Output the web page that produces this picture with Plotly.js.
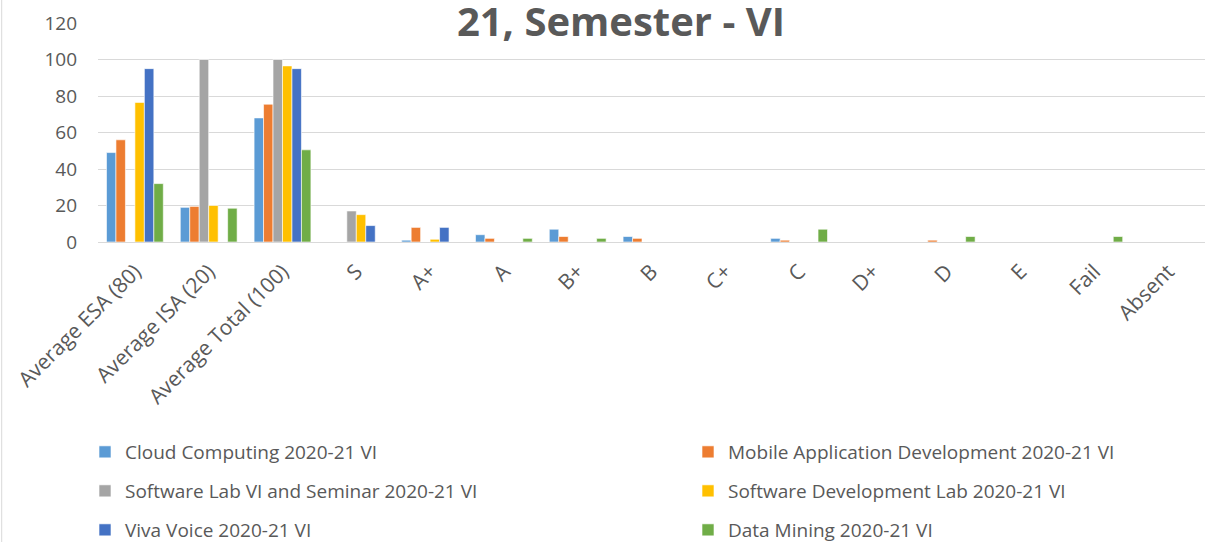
<!DOCTYPE html>
<html>
<head>
<meta charset="utf-8">
<script src="https://cdn.plot.ly/plotly-3.0.1.min.js"></script>
<style>
  html, body { margin: 0; padding: 0; background: #fff; }
  #chart { width: 1208px; height: 542px; }
</style>
</head>
<body>
<div id="chart"></div>
<script>
// categories on the x axis
let categories = ['Average ESA (80)', 'Average ISA (20)', 'Average Total (100)', 'S', 'A+', 'A',
                  'B+', 'B', 'C+', 'C', 'D+', 'D', 'E', 'Fail', 'Absent'];

// one array per course
let cloudComputing = [49, 19, 68, 0, 1, 4, 7, 3, 0, 2, 0, 0, 0, 0, 0];
let mobileAppDev   = [56, 19.5, 75.5, 0, 8, 2, 3, 2, 0, 1, 0, 1, 0, 0, 0];
let softwareLab    = [0, 100, 100, 17, 0, 0, 0, 0, 0, 0, 0, 0, 0, 0, 0];
let softwareDevLab = [76.5, 20, 96.5, 15, 1.5, 0, 0, 0, 0, 0, 0, 0, 0, 0, 0];
let vivaVoice      = [95, 0, 95, 9, 8, 0, 0, 0, 0, 0, 0, 0, 0, 0, 0];
let dataMining     = [32, 18.5, 50.5, 0, 0, 2, 2, 0, 0, 7, 0, 3, 0, 3, 0];

let seriesNames = ['Cloud Computing 2020-21 VI', 'Mobile Application Development 2020-21 VI',
                   'Software Lab VI and Seminar 2020-21 VI', 'Software Development Lab 2020-21 VI',
                   'Viva Voice 2020-21 VI', 'Data Mining 2020-21 VI'];
let seriesValues = [cloudComputing, mobileAppDev, softwareLab, softwareDevLab, vivaVoice, dataMining];
let seriesColors = ['#5B9BD5', '#ED7D31', '#A5A5A5', '#FFC000', '#4472C4', '#70AD47'];

let traces = [];
let layout = {
  width: 1208,
  height: 542,
  paper_bgcolor: '#fff',
  plot_bgcolor: '#fff',
  font: { family: 'Open Sans, sans-serif', color: '#595959', size: 17 },
  margin: { l: 98, r: 3, t: 23, b: 300, autoexpand: false },
  barmode: 'group',
  bargap: 0.23,
  bargroupgap: 0,
  showlegend: true,
  title: {
    text: '<b>21, Semester - VI</b>',
    font: { size: 40, color: '#595959' },
    xref: 'container', yref: 'container',
    x: 0.514, xanchor: 'center',
    y: 1 - 22 / 542, yanchor: 'middle'
  },
  xaxis: {
    type: 'category',
    automargin: false,
    tickangle: -45,
    showgrid: false,
    showline: true,
    linecolor: '#d9d9d9',
    linewidth: 1,
    ticks: '',
    ticklabelstandoff: 8,
    tickfont: { size: 21, color: '#595959' }
  },
  yaxis: {
    automargin: false,
    range: [0, 120],
    dtick: 20,
    gridcolor: '#d9d9d9',
    gridwidth: 1,
    zeroline: false,
    showline: false,
    ticks: '',
    ticklabelstandoff: 20,
    tickfont: { size: 19, color: '#595959' }
  },
  shapes: [{
    type: 'line', xref: 'paper', yref: 'paper',
    x0: -0.087, x1: -0.087, y0: -1.5, y1: 1.2,
    line: { color: '#d9d9d9', width: 1 }
  }]
};

// legend laid out in two columns and three rows, one legend box per entry
let colX = [85, 688];
let rowY = [452, 491, 530];
for (let i = 0; i < seriesNames.length; i++) {
  let id = i === 0 ? 'legend' : 'legend' + (i + 1);
  traces.push({
    x: categories,
    y: seriesValues[i],
    name: seriesNames[i],
    type: 'bar',
    legend: id,
    marker: { color: seriesColors[i], line: { color: 'rgba(255,255,255,0.6)', width: 1 } },
    hoverinfo: 'skip'
  });
  layout[id] = {
    xref: 'container', yref: 'container',
    x: colX[i % 2] / 1208, xanchor: 'left',
    y: 1 - rowY[Math.floor(i / 2)] / 542, yanchor: 'middle',
    font: { size: 19, color: '#595959' },
    itemwidth: 30,
    bgcolor: 'rgba(0,0,0,0)'
  };
}

Plotly.newPlot('chart', traces, layout, { displayModeBar: false, staticPlot: true });
</script>
</body>
</html>
